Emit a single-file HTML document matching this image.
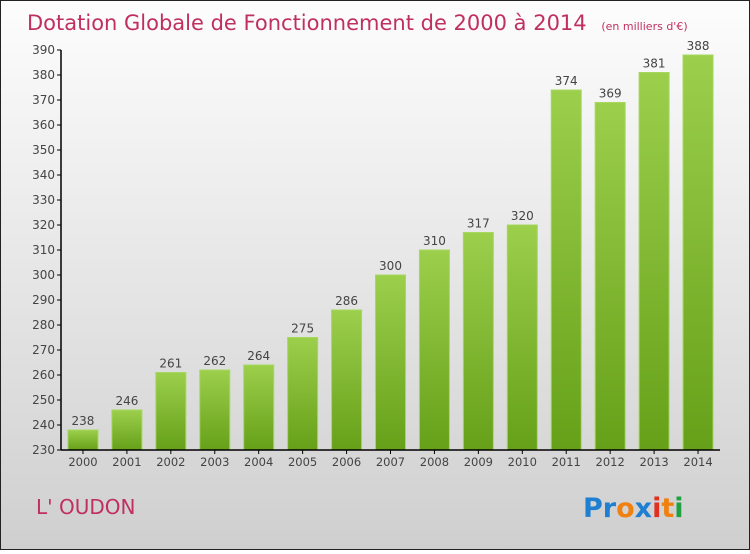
<!DOCTYPE html>
<html><head><meta charset="utf-8"><style>
body{margin:0}
#c{width:750px;height:550px;position:relative;font-family:"DejaVu Sans","Liberation Sans",sans-serif}
</style></head><body>
<div id="c">
<svg id="s" width="750" height="550" xmlns="http://www.w3.org/2000/svg">
<defs>
<linearGradient id="bg" x1="0" y1="0" x2="0" y2="1"><stop offset="0" stop-color="#fdfdfd"/><stop offset="1" stop-color="#cfcfcf"/></linearGradient>
<linearGradient id="bar" x1="0" y1="0" x2="0" y2="1"><stop offset="0" stop-color="#9ccf4c"/><stop offset="1" stop-color="#66a019"/></linearGradient>
</defs>
<rect x="0.5" y="0.5" width="749" height="549" fill="url(#bg)" stroke="#222"/>
<text x="27" y="30" font-size="21" fill="#c0305f">Dotation Globale de Fonctionnement de 2000 à 2014 <tspan font-size="11" dx="8">(en milliers d'€)</tspan></text>
<text x="36" y="514" font-size="20" fill="#c0305f">L' OUDON</text>
<g font-size="27" font-weight="bold" font-family="'DejaVu Sans',sans-serif">
<text x="583" y="517"><tspan fill="#1f7fd0">Pr</tspan><tspan fill="#f08010">o</tspan><tspan fill="#1f7fd0">x</tspan><tspan fill="#e03020">i</tspan><tspan fill="#f08010">t</tspan><tspan fill="#20a040">i</tspan></text>
</g>
<g id="plot"></g>
</svg>
</div>
<script>
const years=["2000","2001","2002","2003","2004","2005","2006","2007","2008","2009","2010","2011","2012","2013","2014"];
const values=[238,246,261,262,264,275,286,300,310,317,320,374,369,381,388];
const ticks=[230,240,250,260,270,280,290,300,310,320,330,340,350,360,370,380,390];
const X0=61,X1=720,Y0=450,Y1=50,VMIN=230,VMAX=390;
const y=v=>Y0-(v-VMIN)/(VMAX-VMIN)*(Y0-Y1);
const step=(X1-X0)/years.length;
const x=i=>X0+step*(i+0.5);
const g=document.getElementById('plot');
const NS="http://www.w3.org/2000/svg";
function mk(t,a){const e=document.createElementNS(NS,t);for(const k in a)e.setAttribute(k,a[k]);g.appendChild(e);return e;}
values.forEach((v,i)=>{
 const r=mk('rect',{x:x(i)-15,y:y(v),width:30,height:Y0-y(v),fill:'url(#bar)',stroke:'#a6d85e','stroke-width':1});
 
 
 const t=mk('text',{x:x(i),y:y(v)-5,'text-anchor':'middle','font-size':12,fill:'#444'});
 t.textContent=v;
 
 
 const xt=mk('text',{x:x(i),y:Y0+16,'text-anchor':'middle','font-size':11.5,fill:'#444'});
 xt.textContent=years[i];
 
 
 const tk=mk('line',{x1:x(i),x2:x(i),y1:Y0,y2:Y0+4,stroke:'#000'});
 
 
});
ticks.forEach(v=>{
 const l=mk('line',{x1:X0-4,x2:X0,y1:y(v),y2:y(v),stroke:'#000'});
 
 
 const t=mk('text',{x:X0-6,y:y(v)+4,'text-anchor':'end','font-size':12,fill:'#444'});
 t.textContent=v;
 
 
});
const ya=mk('line',{x1:X0,x2:X0,y1:Y1,y2:Y0,stroke:'#000','stroke-width':1.5});


const xa=mk('line',{x1:X0,x2:X1,y1:Y0,y2:Y0,stroke:'#000','stroke-width':1.5});


</script>
</body></html>
